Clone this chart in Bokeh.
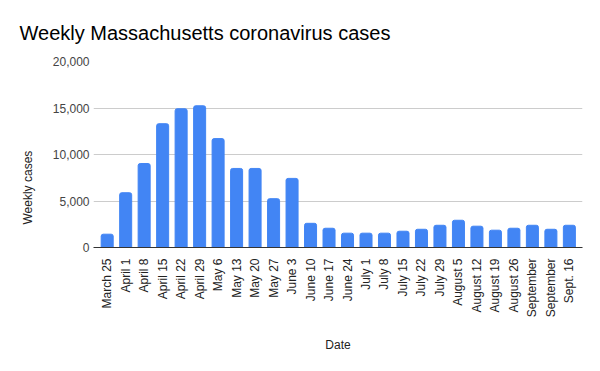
from bokeh.plotting import figure
from bokeh.models import Range1d, FixedTicker, NumeralTickFormatter, ColumnDataSource, Title
from bokeh.embed import file_html
from bokeh.resources import INLINE
import math

dates = ["March 25", "April 1", "April 8", "April 15", "April 22", "April 29",
         "May 6", "May 13", "May 20", "May 27", "June 3", "June 10", "June 17",
         "June 24", "July 1", "July 8", "July 15", "July 22", "July 29",
         "August 5", "August 12", "August 19", "August 26", "September",
         "September", "Sept. 16"]
cases = [1430, 5890, 9030, 13310, 14920, 15240, 11710, 8500, 8500, 5250, 7430,
         2600, 2070, 1540, 1540, 1540, 1750, 1960, 2390, 2930, 2290, 1860,
         2070, 2390, 1960, 2390]
y_ticks = [0, 5000, 10000, 15000, 20000]

# layout (pixels within the figure canvas)
W, H = 584, 355
LEFT, RIGHT, TOP, BOTTOM = 93, 582, 61, 248
X0, X1 = -0.74, len(dates) - 0.29
Y0, Y1 = 0, 20000

xs = list(range(len(dates)))
src = ColumnDataSource(dict(x=xs, y=cases))

p = figure(width=W, height=H, output_backend="svg", toolbar_location=None,
           x_range=Range1d(X0, X1), y_range=Range1d(Y0, Y1),
           min_border_left=LEFT, min_border_right=W - RIGHT, min_border_top=TOP,
           min_border_bottom=H - BOTTOM)
p.title = None

p.vbar(x="x", top="y", width=0.65, source=src, color="#4285F4",
       border_radius=(2, 2, 0, 0))

p.outline_line_color = None
p.xgrid.grid_line_color = None
p.ygrid.grid_line_color = "#cccccc"
p.ygrid.ticker = FixedTicker(ticks=y_ticks)

p.yaxis.ticker = FixedTicker(ticks=y_ticks)
p.yaxis.formatter = NumeralTickFormatter(format="0,0")
p.yaxis.axis_line_color = None
p.yaxis.major_tick_line_color = None
p.yaxis.minor_tick_line_color = None
p.yaxis.major_label_text_font = "Liberation Sans"
p.yaxis.major_label_text_font_size = "12px"
p.yaxis.major_label_text_color = "#444444"
p.yaxis.major_label_standoff = -2

p.xaxis.ticker = FixedTicker(ticks=xs)
p.xaxis.major_label_overrides = {i: d for i, d in enumerate(dates)}
p.xaxis.major_label_orientation = math.pi / 2
p.xaxis.axis_line_color = "#333333"
p.xaxis.axis_line_width = 1
p.xaxis.major_tick_line_color = None
p.xaxis.minor_tick_line_color = None
p.xaxis.major_label_text_font = "Liberation Sans"
p.xaxis.major_label_text_font_size = "12px"
p.xaxis.major_label_text_color = "#222222"
p.xaxis.major_label_standoff = 5
p.xaxis.axis_label = "Date"
p.xaxis.axis_label_text_font = "Liberation Sans"
p.xaxis.axis_label_text_font_size = "12px"
p.xaxis.axis_label_text_font_style = "normal"
p.xaxis.axis_label_text_color = "#222222"
p.xaxis.axis_label_standoff = 18

title = Title(text="Weekly Massachusetts coronavirus cases", align="left",
              offset=-(LEFT - 19), standoff=35,
              text_font="Liberation Sans", text_font_size="20px",
              text_font_style="normal", text_color="#000000")
p.add_layout(title, "above")

ylab = Title(text="Weekly cases", align="left", offset=23, standoff=29,
             text_font="Liberation Sans", text_font_size="12px",
             text_font_style="normal", text_color="#222222")
p.add_layout(ylab, "left")

open("out.html", "w").write(file_html(p, INLINE))
